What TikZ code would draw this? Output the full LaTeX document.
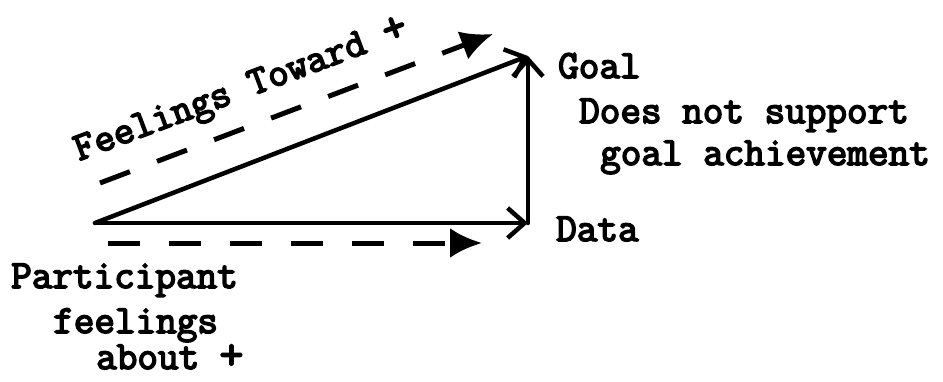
\documentclass[tikz,border=0pt]{standalone}
\usepackage{fontspec}
\newfontfamily\typewr{Latin Modern Mono}[FakeBold=4]
\usetikzlibrary{arrows.meta,positioning}

\begin{document}
\begin{tikzpicture}[x=1pt, y=1pt,
    arr/.style={-{Straight Barb[length=17pt,width=30pt]}, line width=4.5pt,
                line cap=round},
    dasharr/.style={-{Latex[length=32pt,width=30pt]}, line width=5pt,
                    dash pattern=on 32pt off 29pt},
    lbl/.style={font=\fontsize{40}{46}\selectfont\typewr,
                inner sep=0pt, anchor=base west},
  ]
  \useasboundingbox (0,0) rectangle (943,381);

  % Triangle corners
  \coordinate (src) at (95,158);
  \coordinate (data) at (528,158);
  \coordinate (goal) at (528,325);

  % Solid arrows
  \draw[arr] (src) -- (data);
  \draw[arr] (src) -- (goal);
  \draw[arr] (data) -- (goal);

  % Dashed arrows
  \coordinate (feelA) at (100,198);
  \coordinate (feelB) at (493,347);
  \draw[dasharr] (feelA) -- (feelB);
  \coordinate (partA) at (108,138);
  \coordinate (partB) at (482,138);
  \draw[dasharr] (partA) -- (partB);

  % Labels on the right
  \node[lbl] (goalLbl) at (558,303) {Goal};
  \node[lbl] (noSupport) at (579,258) {Does not support};
  \node[lbl] (achieve) at (600,216) {goal achievement};
  \node[lbl] (dataLbl) at (556,140) {Data};

  % Labels on the left
  \node[lbl, rotate=20.6] (toward) at (79,220)
    {Feelings Toward {\fontsize{46}{46}\selectfont+}};
  \node[lbl] (partLbl) at (11,93) {Participant};
  \node[lbl] (feelLbl) at (53,48) {feelings};
  \node[lbl] (aboutLbl) at (96,12) {about};
  \node[lbl, right=20pt of aboutLbl.base east, anchor=base west,
        font=\fontsize{46}{46}\selectfont\typewr] (aboutPlus) {+};
\end{tikzpicture}
\end{document}
